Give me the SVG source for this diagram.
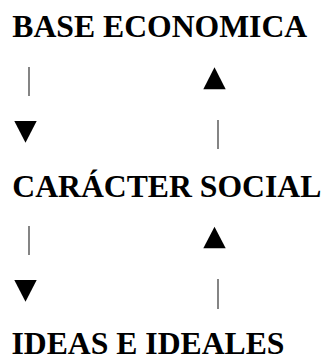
<svg xmlns="http://www.w3.org/2000/svg" width="322" height="356" viewBox="0 0 322 356">
<style>
.t{font-family:"Liberation Serif","Times New Roman",serif;font-weight:bold;font-size:31.7px;fill:#000}
.ln{stroke:#333;stroke-width:1.2}
.hd{fill:#000}
</style>
<rect width="322" height="356" fill="#fff"/>
<g id="base"><text class="t" x="12.3" y="37">BASE ECONOMICA</text></g>
<g id="caracter"><text class="t" x="12.3" y="196.5">CARÁCTER SOCIAL</text></g>
<g id="ideas"><text class="t" x="11.5" y="353.8">IDEAS E IDEALES</text></g>
<g id="connectors">
<line class="ln" x1="29" y1="67" x2="29" y2="96"/>
<polygon class="hd" points="14.3,121 36.7,121 25.5,142.7"/>
<polygon class="hd" points="203.3,89.3 225.7,89.3 214.5,67.3"/>
<line class="ln" x1="218" y1="120" x2="218" y2="149"/>
<line class="ln" x1="29" y1="226" x2="29" y2="255"/>
<polygon class="hd" points="14.3,280 36.7,280 25.5,301.7"/>
<polygon class="hd" points="203.3,248.3 225.7,248.3 214.5,226.7"/>
<line class="ln" x1="218" y1="279" x2="218" y2="309"/>
</g>
</svg>
